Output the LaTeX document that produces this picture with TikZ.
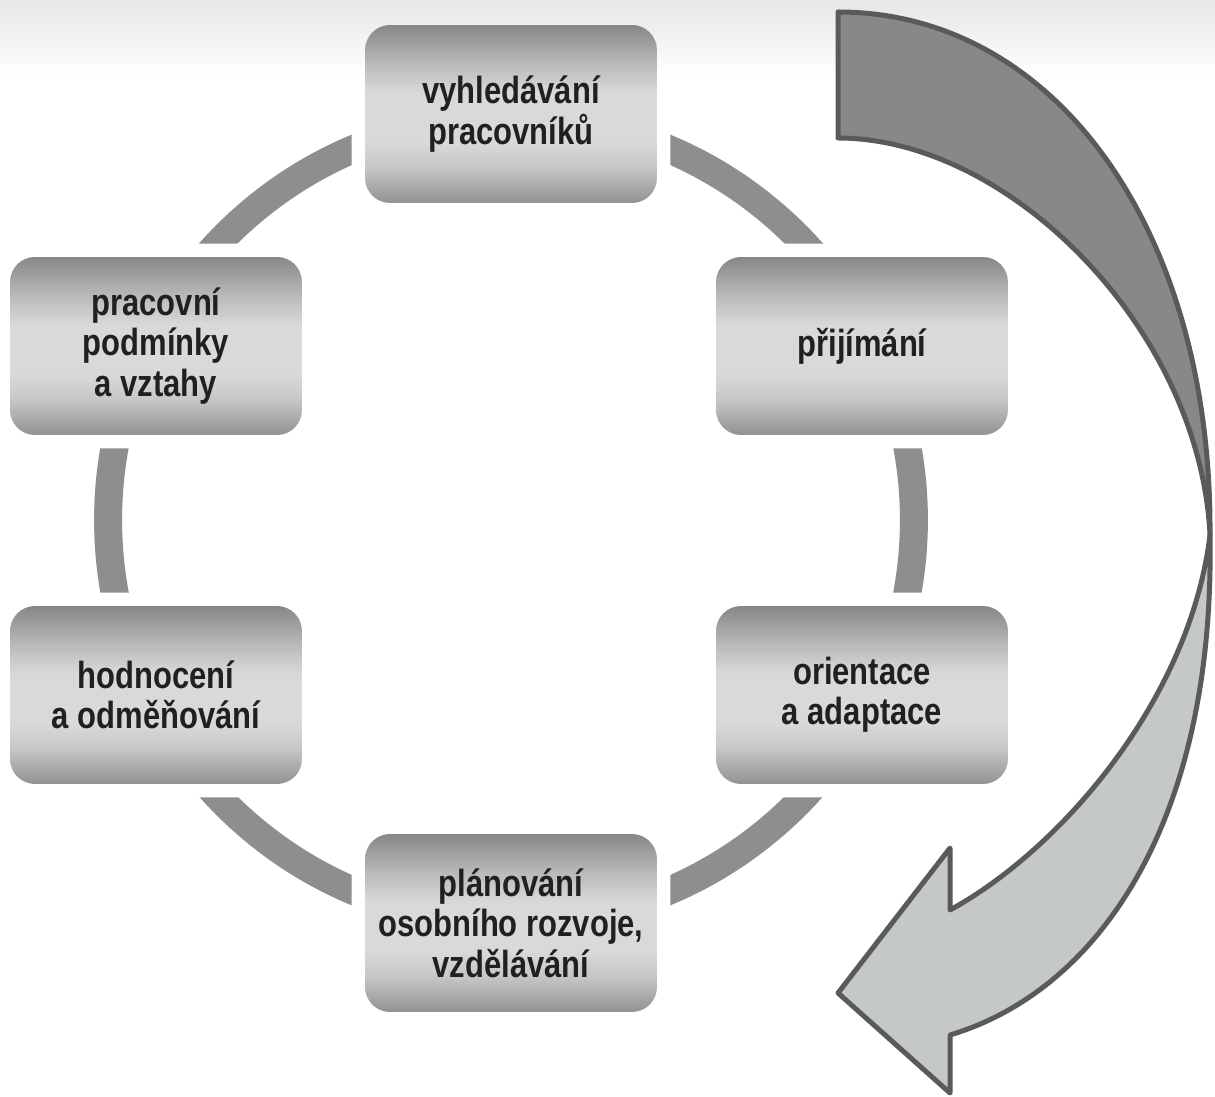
\documentclass[tikz,border=0pt]{standalone}
\usepackage{fontspec}
\setmainfont{Liberation Sans}[FakeStretch=0.82]
\usetikzlibrary{shadings,backgrounds}
\definecolor{ringgray}{HTML}{8E8E8E}
\definecolor{arrowdark}{HTML}{888888}
\definecolor{arrowlight}{HTML}{C4C8C8}
\definecolor{arrowline}{HTML}{5A5A5A}
\definecolor{txt}{HTML}{231F20}
\definecolor{bgtop}{HTML}{E6E6E6}
\pgfdeclareverticalshading{boxshade}{100bp}{
  color(0bp)=(black!43);
  color(25bp)=(black!43);
  color(35bp)=(black!22);
  color(42bp)=(black!15);
  color(56bp)=(black!15);
  color(64bp)=(black!27);
  color(75bp)=(black!47);
  color(100bp)=(black!47)}
\tikzset{
  stagebox/.style={rounded corners=0.5cm, minimum width=5.84cm, minimum height=3.56cm,
    shading=boxshade, align=center, text=txt,
    font=\fontsize{21.5}{23}\selectfont\bfseries},
  ringline/.style={draw=ringgray, line width=0.56cm},
  halo/.style={fill=white, rounded corners=0.76cm},
  arrowpart/.style={draw=arrowline, line width=0.1cm, line join=round}
}
\begin{document}
\begin{tikzpicture}[x=0.02cm, y=-0.02cm]
\useasboundingbox (0,0) rectangle (1215,1097);
% boxes
\node[stagebox] (s1) at (511,114) {vyhledávání\\pracovníků};
\node[stagebox] (s2) at (862,346) {přijímání};
\node[stagebox] (s3) at (862,695) {orientace\\a adaptace};
\node[stagebox] (s4) at (511,923) {plánování\\osobního rozvoje,\\vzdělávání};
\node[stagebox] (s5) at (156,695) {hodnocení\\a odměňování};
\node[stagebox] (s6) at (156,346) {pracovní\\podmínky\\a vztahy};
\begin{scope}[on background layer]
  \fill[white] (0,0) rectangle (1215,1097);
  \shade[top color=bgtop, bottom color=white] (0,0) rectangle (1215,75);
  % ring
  \draw[ringline] (511,520) circle [radius=8.06cm];
  \begin{scope}[even odd rule]
    \clip (511,520) circle [radius=8.45cm] (511,520) circle [radius=7.65cm];
    \foreach \n in {s1,s2,s3,s4,s5,s6}
      \path[halo] ([shift={(-13,-13)}]\n.north west) rectangle ([shift={(13,13)}]\n.south east);
  \end{scope}
\end{scope}
% big twisted arrow
\coordinate (pinch) at (1210,535);
\filldraw[arrowpart, fill=arrowdark] (838,138) -- (838,12)
  .. controls (1055,12) and (1212,230) .. (pinch)
  .. controls (1200,330) and (1010,138) .. (838,138) -- cycle;
\filldraw[arrowpart, fill=arrowlight] (pinch)
  .. controls (1215,820) and (1100,990) .. (950,1035)
  -- (950,1093) -- (838,993) -- (950,848) -- (950,910)
  .. controls (1060,850) and (1190,700) .. (pinch) -- cycle;
\end{tikzpicture}
\end{document}
